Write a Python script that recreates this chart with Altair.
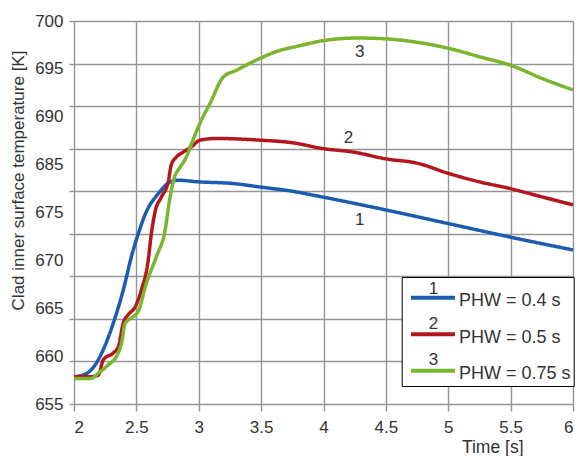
import altair as alt
import pandas as pd

# ---- data ----
series_names = ["PHW = 0.4 s", "PHW = 0.5 s", "PHW = 0.75 s"]
series_nums = ["1", "2", "3"]
colors = ["#1c5cb0", "#b3161d", "#79b52d"]

t1 = [2.0, 2.09, 2.17, 2.235, 2.315, 2.395, 2.46, 2.515, 2.58, 2.675, 2.77, 2.82,
      3.0, 3.28, 3.49, 3.75, 4.0, 4.5, 5.0, 5.5, 6.0]
y1 = [658.2, 658.5, 659.6, 661.4, 664.5, 668.4, 672.3, 675.0, 677.6, 679.7, 681.1, 681.3,
      681.1, 680.9, 680.5, 680.0, 679.3, 677.8, 676.2, 674.6, 673.1]

t2 = [2.0, 2.13, 2.195, 2.235, 2.315, 2.355, 2.395, 2.435, 2.49, 2.54, 2.595, 2.62, 2.65,
      2.70, 2.755, 2.78, 2.82, 2.875, 2.94, 3.01, 3.14, 3.49, 3.75, 4.0, 4.24, 4.5, 4.75,
      5.0, 5.25, 5.5, 5.76, 6.0]
y2 = [658.2, 658.2, 658.4, 660.2, 661.0, 661.7, 664.5, 665.5, 666.4, 668.4, 671.9, 675.0, 677.6,
      679.3, 681.1, 683.1, 684.0, 684.6, 685.2, 686.0, 686.2, 686.0, 685.7, 685.0, 684.6, 683.8, 683.3,
      682.1, 681.1, 680.3, 679.3, 678.4]

t3 = [2.0, 2.13, 2.21, 2.275, 2.34, 2.38, 2.41, 2.46, 2.515, 2.58, 2.66, 2.73, 2.77, 2.80,
      2.85, 2.90, 2.94, 3.01, 3.09, 3.196, 3.30, 3.49, 3.62, 3.81, 4.0, 4.27, 4.5, 4.75,
      5.0, 5.25, 5.5, 5.76, 6.0]
y3 = [658.0, 658.0, 658.8, 659.6, 660.6, 662.1, 664.5, 665.1, 665.9, 669.2, 672.3, 675.4, 679.3, 681.4,
      682.8, 684.0, 685.5, 688.0, 690.3, 693.4, 694.2, 695.6, 696.4, 697.1, 697.7, 698.0, 697.9, 697.5,
      696.8, 695.8, 694.8, 693.2, 691.9]

# in-plot curve labels
lab_t = [4.29, 4.20, 4.29]
lab_y = [676.6, 686.2, 696.3]

# axis ticks / labels
x_ticks = [2, 2.5, 3, 3.5, 4, 4.5, 5, 5.5, 6]
y_grid = [655, 660, 665, 670, 675, 680, 685, 690, 695, 700]
y_label_pos = [700, 694.375, 688.75, 683.125, 677.5, 671.875, 666.25, 660.625, 655]
y_label_txt = ["700", "695", "690", "685", "675", "670", "665", "660", "655"]

rows = []
for name, num, ts, ys in zip(series_names, series_nums, [t1, t2, t3], [y1, y2, y3]):
    for i, (t, y) in enumerate(zip(ts, ys)):
        rows.append({"time": t, "temp": y, "series": name, "num": num, "order": i})
df = pd.DataFrame(rows)
lab_df = pd.DataFrame({"time": lab_t, "ty": lab_y, "num": series_nums})

FONT = "Liberation Sans"
GRID = "#959595"
TXT = "#333333"

x_scale = alt.Scale(domain=[2, 6], nice=False, zero=False)
y_scale = alt.Scale(domain=[655, 700], nice=False, zero=False)

label_expr = "[" + ",".join("'%s'" % s for s in y_label_txt) + "][round((700 - datum.value) / 5.625)]"

x_axis = alt.Axis(values=x_ticks, grid=True, gridColor=GRID, gridWidth=1.4,
                  ticks=True, tickSize=7, tickColor=GRID, tickWidth=1.4,
                  domain=False, labelExpr="datum.value + ''",
                  labelFont=FONT, labelFontSize=17, labelColor=TXT, labelPadding=8,
                  title="Time [s]", titleFont=FONT, titleFontSize=17.5,
                  titleFontWeight="normal", titleColor=TXT,
                  titleX=449, titleAlign="right", titleY=34, titleBaseline="top")

lines = alt.Chart(df).mark_line(strokeWidth=3.5, interpolate="monotone", clip=True).encode(
    x=alt.X("time:Q", scale=x_scale, axis=x_axis),
    y=alt.Y("temp:Q", scale=y_scale,
            axis=alt.Axis(orient="left", values=y_grid, grid=True, gridColor=GRID, gridWidth=1.4,
                          ticks=True, tickSize=5, tickColor=GRID, tickWidth=1.4,
                          labels=False, domain=False, title=None)),
    color=alt.Color("series:N", scale=alt.Scale(domain=series_names, range=colors),
                    legend=alt.Legend(title=" ", titleFontSize=6, titlePadding=3,
                                      orient="none", legendX=327.7, legendY=256,
                                      direction="vertical",
                                      symbolType="M-0.57,-0.33H3.83", symbolSize=400,
                                      symbolStrokeWidth=4,
                                      labelFont=FONT, labelFontSize=18, labelColor=TXT,
                                      labelOffset=30.3, labelLimit=0, padding=3,
                                      rowPadding=15.5, strokeColor="black",
                                      fillColor="white", zindex=1)),
    strokeDash=alt.StrokeDash("num:N", scale=alt.Scale(domain=series_nums, range=[[1, 0], [1, 0], [1, 0]]),
                              legend=alt.Legend(title=" ", titleFontSize=6, titlePadding=3,
                                                orient="none", legendX=327.7, legendY=243.5,
                                                direction="vertical",
                                                symbolType="M-0.57,-0.33H3.83", symbolSize=400,
                                                symbolStrokeWidth=4, symbolOpacity=0,
                                                labelFont=FONT, labelFontSize=17, labelColor=TXT,
                                                labelOffset=0, padding=3, rowPadding=15.5,
                                                zindex=2)),
    order="order:Q",
)

texts = alt.Chart(lab_df).mark_text(font=FONT, fontSize=17, color=TXT, align="center",
                                    baseline="middle").encode(
    x=alt.X("time:Q", scale=x_scale, axis=x_axis),
    y=alt.Y("ty:Q", scale=y_scale,
            axis=alt.Axis(orient="left", values=y_label_pos, labelExpr=label_expr,
                          grid=False, ticks=False, tickSize=0, domain=False,
                          labelFont=FONT, labelFontSize=17, labelColor=TXT, labelPadding=11,
                          title="Clad inner surface temperature [K]", titleFont=FONT,
                          titleFontSize=17, titleFontWeight="normal", titleColor=TXT,
                          titlePadding=7, titleY=159)),
    text="num:N",
)

chart = alt.layer(lines, texts).resolve_axis(y="independent").properties(
    width=499, height=383,
    autosize=alt.AutoSizeParams(type="none"),
    padding={"left": 74, "top": 21, "right": 7, "bottom": 52},
    background="white",
).configure_view(strokeWidth=0)

chart.save("out.html", embed_options={"renderer": "svg", "actions": False})
